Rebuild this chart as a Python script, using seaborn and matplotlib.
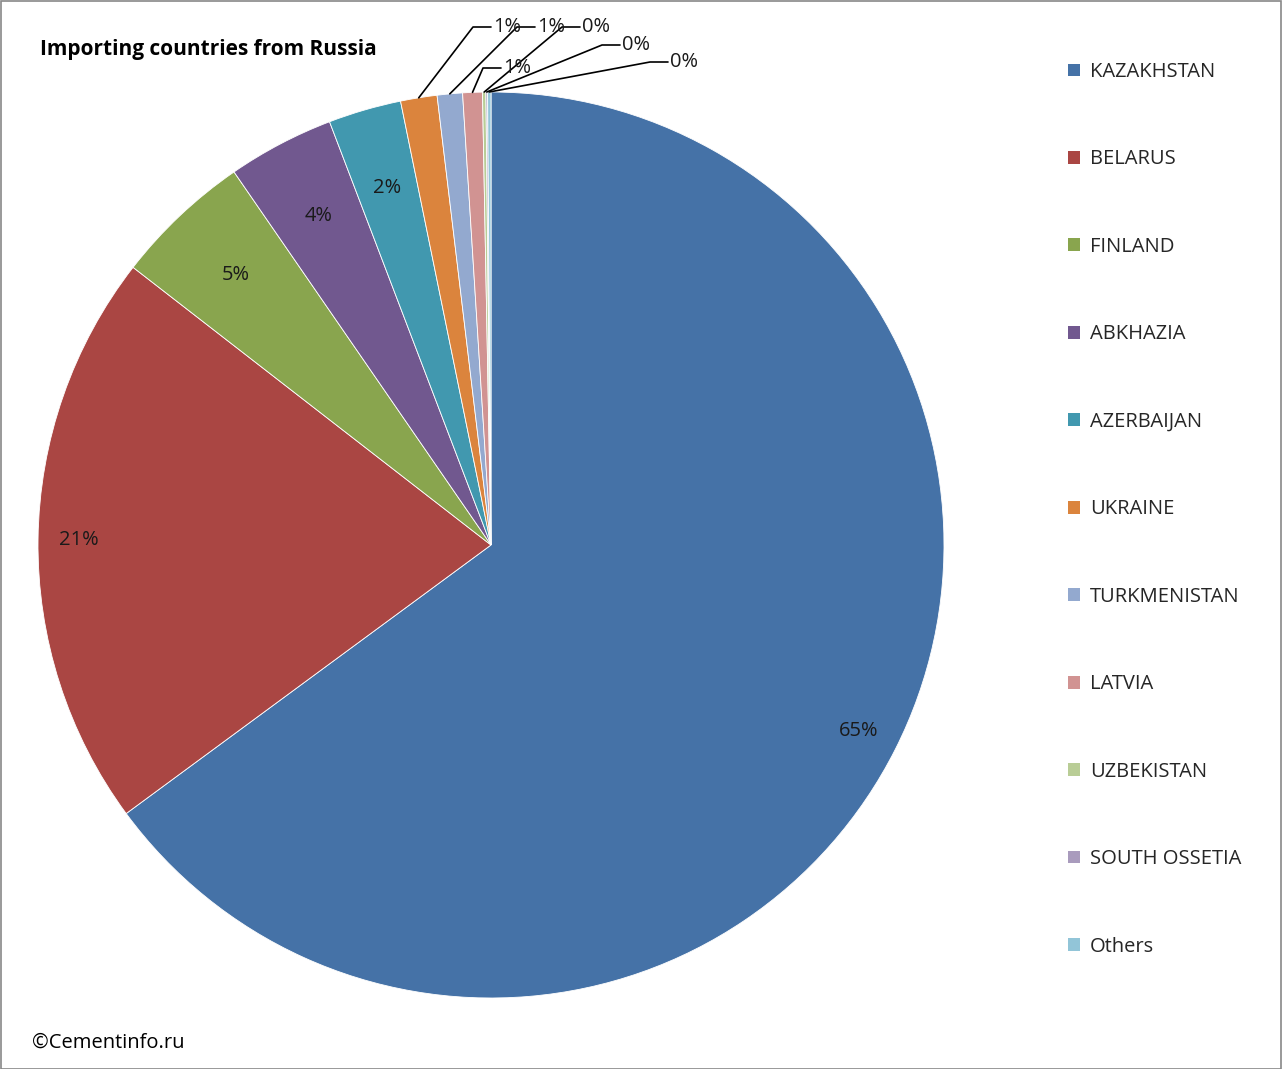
import numpy as np
import matplotlib
matplotlib.use("Agg")
import matplotlib.pyplot as plt
import seaborn as sns
from matplotlib.patches import Rectangle, Patch

sns.set_theme(style="white")
plt.rcParams["font.family"] = "Open Sans"

countries = ["KAZAKHSTAN", "BELARUS", "FINLAND", "ABKHAZIA", "AZERBAIJAN", "UKRAINE",
             "TURKMENISTAN", "LATVIA", "UZBEKISTAN", "SOUTH OSSETIA", "Others"]
shares = [64.9, 20.6, 4.9, 3.8, 2.6, 1.3, 0.9, 0.7, 0.12, 0.06, 0.12]
pct_labels = ["65%", "21%", "5%", "4%", "2%", "1%", "1%", "1%", "0%", "0%", "0%"]
colors = ["#4572A7", "#AA4643", "#89A54E", "#71588F", "#4198AF", "#DB843D",
          "#93A9CF", "#D19392", "#B9CD96", "#A99BBD", "#92C5D8"]

W, H = 1282, 1069
fig = plt.figure(figsize=(W / 100, H / 100), dpi=100)
ax = fig.add_axes([0, 0, 1, 1])
ax.set_xlim(0, W)
ax.set_ylim(0, H)
ax.axis("off")

cx, cy, R = 491, H - 545, 453
wedges, _ = ax.pie(shares, colors=colors, startangle=90, counterclock=False,
                   center=(cx, cy), radius=R, frame=True,
                   wedgeprops=dict(edgecolor="white", linewidth=0.6))
ax.set_xlim(0, W)
ax.set_ylim(0, H)
ax.set_aspect("equal")
ax.axis("off")

fs = 14.5
# inside labels
for i in range(5):
    w = wedges[i]
    a = np.deg2rad((w.theta1 + w.theta2) / 2)
    r = 0.91 if i < 2 else 0.82
    ax.text(cx + r * R * np.cos(a), cy + r * R * np.sin(a), pct_labels[i],
            ha="center", va="center", fontsize=fs, color="#1a1a1a")

# outside labels with leader lines (text position in pixels from top)
text_pos = {5: (493, 27), 6: (537, 27), 7: (503, 68), 8: (582, 27), 9: (622, 45), 10: (670, 62)}
for i, (tx, ty) in text_pos.items():
    w = wedges[i]
    a = np.deg2rad((w.theta1 + w.theta2) / 2)
    px, py = cx + R * np.cos(a), cy + R * np.sin(a)
    ty = H - ty
    ax.plot([px, tx - 20, tx - 2], [py, ty, ty], color="black", lw=1.2)
    ax.text(tx, ty, pct_labels[i], ha="left", va="center", fontsize=fs, color="#1a1a1a")

ax.text(40, H - 50, "Importing countries from Russia", fontsize=15, fontweight="bold",
        ha="left", va="center", color="black")
ax.text(32, H - 1043, "©Cementinfo.ru", fontsize=fs, ha="left", va="center", color="black")

handles = [Patch(facecolor=c, edgecolor="none") for c in colors]
leg = ax.legend(handles, countries, loc="upper left", bbox_to_anchor=(1068 / W, 1 - 62 / H),
                bbox_transform=fig.transFigure, frameon=False, fontsize=fs,
                handlelength=0.6, handleheight=0.6, handletextpad=0.5,
                labelspacing=3.35, borderpad=0, borderaxespad=0)

fig.patches.append(Rectangle((0.5 / W, 0.5 / H), 1 - 1.5 / W, 1 - 1.5 / H,
                             transform=fig.transFigure, fill=False,
                             edgecolor="#888888", lw=1.2))
fig.savefig("out.png", dpi=100)
